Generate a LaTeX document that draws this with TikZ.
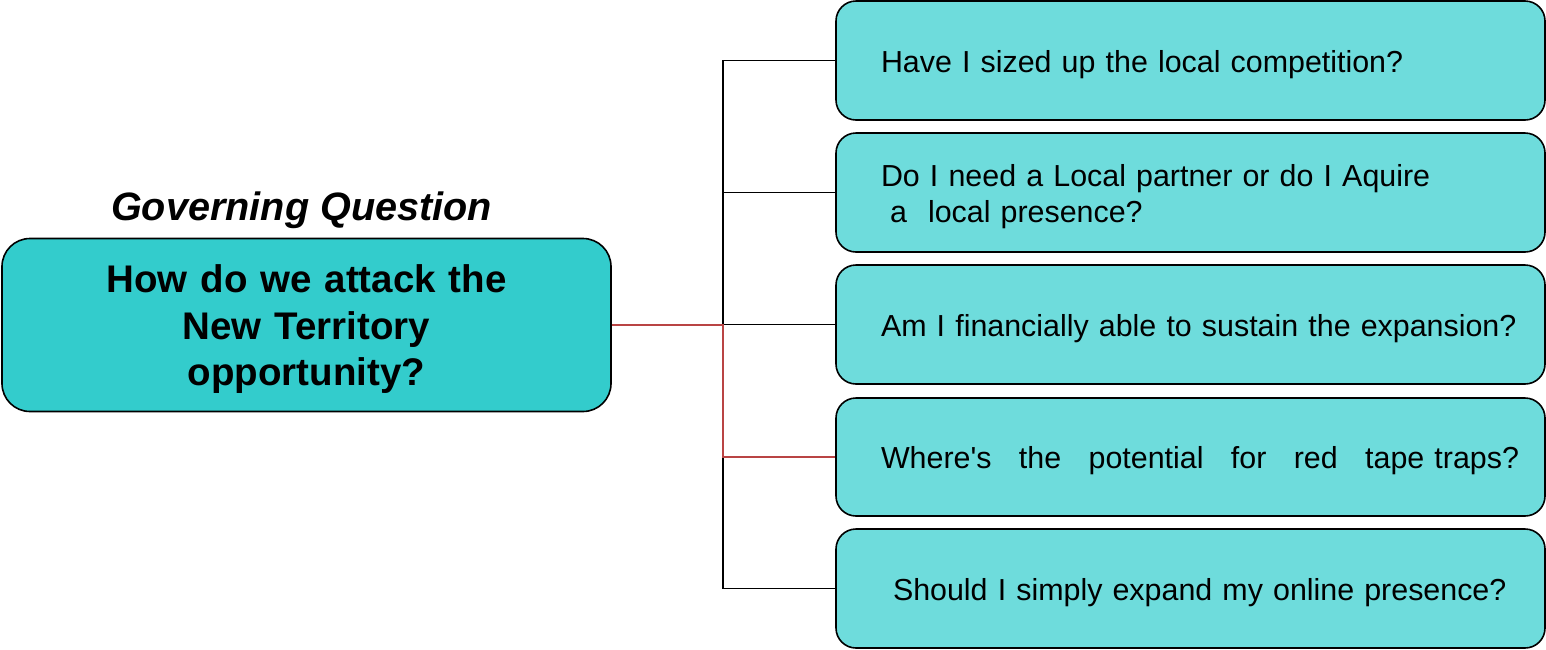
\documentclass[tikz,border=0pt]{standalone}
\usepackage{fontspec}
\setmainfont{Liberation Sans}
\newfontfamily\arialfont{Liberation Sans}
\definecolor{mainfill}{RGB}{51,204,204}
\definecolor{subfill}{RGB}{110,220,220}
\definecolor{linkred}{RGB}{185,68,68}
\begin{document}
\begin{tikzpicture}[x=1pt,y=-1pt,
  qbox/.style={draw=black, line width=1.6pt, rounded corners=20pt, fill=subfill,
    minimum width=709pt, minimum height=119pt, inner sep=0pt, text width=619pt,
    text height=29pt, text depth=6pt,
    align=left, font=\arialfont\fontsize{30.4}{36}\selectfont},
  mainbox/.style={draw=black, line width=1.6pt, rounded corners=28pt, fill=mainfill,
    minimum width=609pt, minimum height=173pt, inner sep=0pt, text width=560pt,
    align=center, font=\arialfont\fontsize{38.5}{46.5}\selectfont\bfseries},
  titletext/.style={font=\arialfont\fontsize{39.6}{46.5}\selectfont\bfseries\itshape, inner sep=0pt},
  link/.style={line width=1.3pt, draw=black},
  redlink/.style={line width=1.3pt, draw=linkred}]
\useasboundingbox (0,0) rectangle (1546,649);

\node[titletext] (title) at (301.5,210) {Governing Question};
\node[mainbox] (main) at (306.5,325) {\rule{0pt}{36pt}How do we attack the\\New Territory\\opportunity?};

\node[qbox] (q1) at (1190.5,60.5) {\mbox{Have I sized up the local competition?}};
\node[qbox, text depth=42pt] (q2) at (1190.5,192.5) {\mbox{Do I need a Local partner or do I Aquire}\\\hspace*{9pt}a\hspace{11pt} local presence?};
\node[qbox] (q3) at (1190.5,324.5) {\mbox{Am I financially able to sustain the expansion?}};
\node[qbox, minimum height=118pt] (q4) at (1190.5,457) {\makebox[638pt][s]{Where's\hfill the\hfill potential\hfill for\hfill red\hfill tape traps?}};
\node[qbox] (q5) at (1190.5,588.5) {\mbox{\hspace*{12pt}Should I simply expand my online presence?}};

\coordinate (j) at (723,325);
\draw[link] (q1.west) -| (j |- q5.west) -- (q5.west);
\draw[link] (q2.west) -- (q2.west -| j);
\draw[link] (q3.west) -- (q3.west -| j);
\draw[redlink] (main.east) -- (j) -- (j |- q4.west) -- (q4.west);
\end{tikzpicture}
\end{document}
